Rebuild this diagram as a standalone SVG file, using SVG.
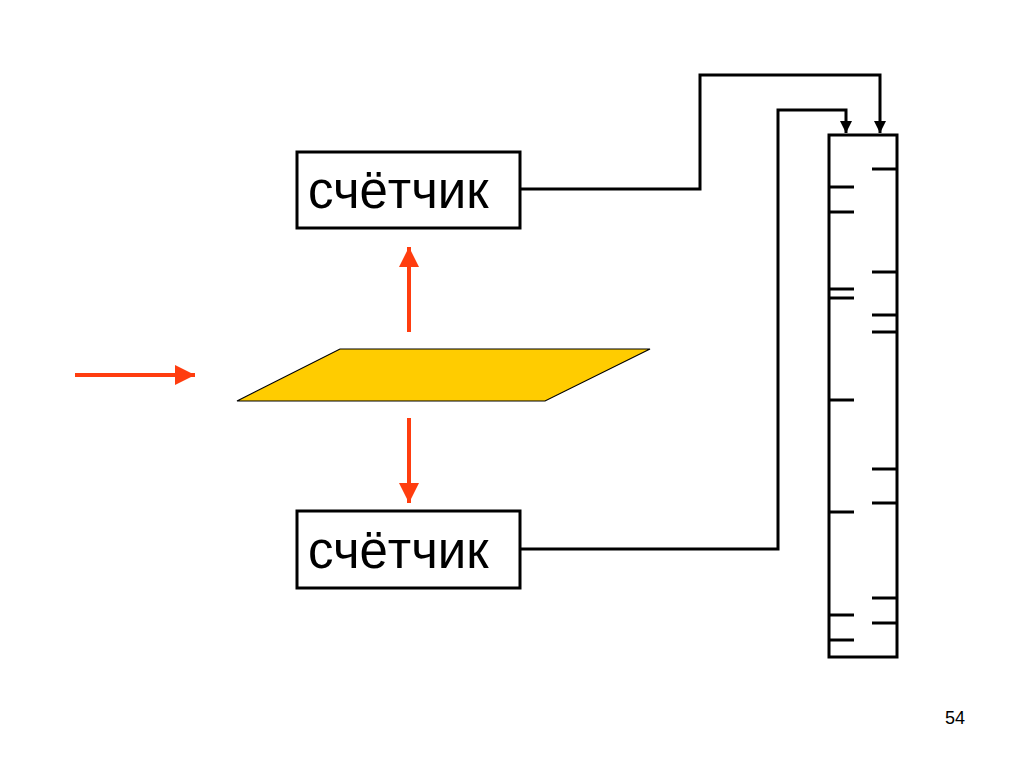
<svg xmlns="http://www.w3.org/2000/svg" width="1024" height="767" viewBox="0 0 1024 767">
<defs>
<marker id="blk" viewBox="0 0 10 10" refX="10" refY="5" markerWidth="4" markerHeight="4" markerUnits="strokeWidth" orient="auto">
<path d="M0,0 L10,5 L0,10 z" fill="#000"/>
</marker>
<marker id="red" viewBox="0 0 10 10" refX="10" refY="5" markerWidth="5" markerHeight="5" markerUnits="strokeWidth" orient="auto">
<path d="M0,0 L10,5 L0,10 z" fill="#FF3D0F"/>
</marker>
<style>
.box{fill:#fff;stroke:#000;stroke-width:3}
.lbl{font-family:"Liberation Sans",Arial,sans-serif;font-size:51px;fill:#000}
.wire{fill:none;stroke:#000;stroke-width:3}
.tick{stroke:#000;stroke-width:3}
.ra{stroke:#FF3D0F;stroke-width:4;fill:none}
</style>
</defs>
<rect width="1024" height="767" fill="#fff"/>
<g id="counter-top">
<rect class="box" x="297" y="152" width="223" height="76"/>
<text class="lbl" x="308" y="208">счётчик</text>
</g>
<g id="counter-bottom">
<rect class="box" x="297" y="511" width="223" height="77"/>
<text class="lbl" x="308" y="568">счётчик</text>
</g>
<g id="plate">
<polygon points="340,349 650,349 545,401 237,401" fill="#FFCC00" stroke="#000" stroke-width="1.2"/>
</g>
<g id="register">
<rect x="829" y="135" width="68" height="522" fill="#fff" stroke="#000" stroke-width="3"/>
<g class="tick">
<line x1="829" y1="187" x2="854" y2="187"/>
<line x1="829" y1="212" x2="854" y2="212"/>
<line x1="829" y1="289" x2="854" y2="289"/>
<line x1="829" y1="298" x2="854" y2="298"/>
<line x1="829" y1="400" x2="854" y2="400"/>
<line x1="829" y1="512" x2="854" y2="512"/>
<line x1="829" y1="615" x2="854" y2="615"/>
<line x1="829" y1="640" x2="854" y2="640"/>
<line x1="872" y1="169" x2="897" y2="169"/>
<line x1="872" y1="272" x2="897" y2="272"/>
<line x1="872" y1="315" x2="897" y2="315"/>
<line x1="872" y1="332" x2="897" y2="332"/>
<line x1="872" y1="469" x2="897" y2="469"/>
<line x1="872" y1="503" x2="897" y2="503"/>
<line x1="872" y1="598" x2="897" y2="598"/>
<line x1="872" y1="623" x2="897" y2="623"/>
</g>
</g>
<g id="connectors">
<polyline class="wire" points="520,189 700,189 700,75 880,75 880,133" marker-end="url(#blk)"/>
<polyline class="wire" points="520,549 778,549 778,110 846,110 846,133" marker-end="url(#blk)"/>
<line class="ra" x1="75" y1="375" x2="195" y2="375" marker-end="url(#red)"/>
<line class="ra" x1="409" y1="332" x2="409" y2="247" marker-end="url(#red)"/>
<line class="ra" x1="409" y1="418" x2="409" y2="503" marker-end="url(#red)"/>
</g>
<text x="955" y="724" font-family="Liberation Sans,Arial,sans-serif" font-size="18" text-anchor="middle" fill="#000">54</text>
</svg>
